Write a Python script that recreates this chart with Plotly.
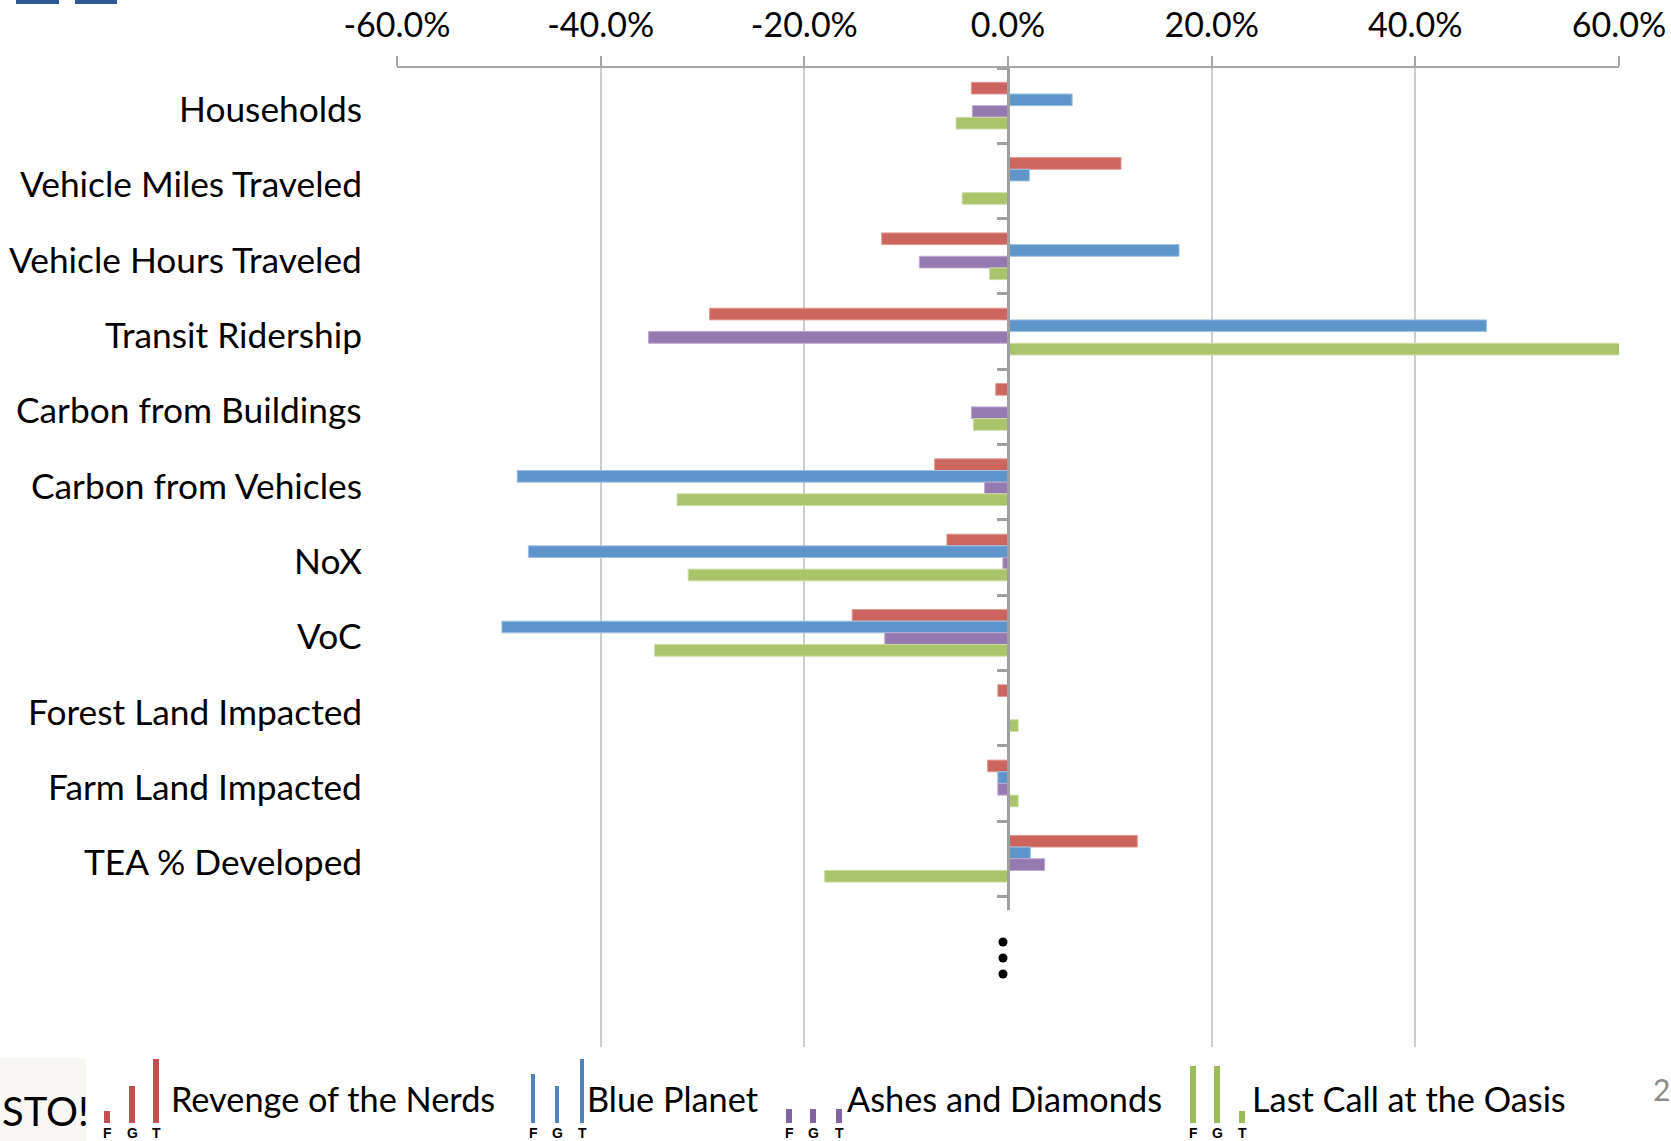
import plotly.graph_objects as go

# Scenario comparison: percent change by indicator
categories = [
    "Households", "Vehicle Miles Traveled", "Vehicle Hours Traveled",
    "Transit Ridership", "Carbon from Buildings", "Carbon from Vehicles",
    "NoX", "VoC", "Forest Land Impacted", "Farm Land Impacted",
    "TEA % Developed",
]
blank_rows = [" ", "  "]

revenge_of_the_nerds = [-3.6, 11.1, -12.4, -29.3, -1.2, -7.2, -6.0, -15.3, -1.0, -2.0, 12.7]
blue_planet = [6.3, 2.1, 16.8, 47.0, 0.15, -48.2, -47.1, -49.7, 0.0, -1.0, 2.2]
ashes_and_diamonds = [-3.5, 0.15, -8.7, -35.3, -3.6, -2.3, -0.5, -12.1, 0.0, -1.0, 3.6]
last_call_at_the_oasis = [-5.1, -4.5, -1.8, 60.2, -3.4, -32.5, -31.4, -34.7, 1.0, 1.0, -18.0]

series_names = ["Revenge of the Nerds", "Blue Planet", "Ashes and Diamonds", "Last Call at the Oasis"]
series_values = [revenge_of_the_nerds, blue_planet, ashes_and_diamonds, last_call_at_the_oasis]

tick_values = [-60, -40, -20, 0, 20, 40, 60]
tick_labels = [f"{v:.1f}%" for v in tick_values]

# styling
bar_fill = ["#CD655F", "#5E95CA", "#947AB0", "#AAC46C"]
bar_edge = ["#E29A95", "#A3C2E3", "#BCA8D0", "#CCDDA4"]
icon_fill = ["#C0504D", "#4F81BD", "#8064A2", "#9BBB59"]
FONT = "Lato"
W, H = 1671, 1141
L, R, T, B = 397, 52, 68, 94
PW, PH = W - L - R, H - T - B


def px(x):
    return (x - L) / PW


def py(y):
    return 1 - (y - T) / PH


fig = go.Figure()
for name, vals, fc, ec in zip(series_names, series_values, bar_fill, bar_edge):
    fig.add_trace(go.Bar(
        y=categories, x=vals, name=name, orientation="h",
        marker=dict(color=fc, line=dict(color=ec, width=1)),
        hoverinfo="x+y+name", showlegend=False,
    ))

shapes = []
annotations = []

# category labels on the far left
for c in categories:
    annotations.append(dict(
        x=px(364), xref="paper", y=c, yref="y", text=c, showarrow=False,
        xanchor="right", yanchor="middle", yshift=-3,
        font=dict(family=FONT, size=35.3, color="#000000"),
    ))

# hide the lower end of the category axis line behind the ellipsis
shapes.append(dict(type="rect", xref="paper", yref="paper",
                   x0=px(985), x1=px(1030), y0=py(1049), y1=py(910),
                   fillcolor="#FFFFFF", line=dict(width=0), layer="above"))
for yy in (942, 958, 974):
    shapes.append(dict(type="circle", xref="paper", yref="paper",
                       x0=px(998.5), x1=px(1007.5), y0=py(yy + 4.5), y1=py(yy - 4.5),
                       fillcolor="#000000", line=dict(width=0), layer="above"))

# decorative bars along the top-left edge
for x0, x1 in ((16, 59), (75, 117)):
    shapes.append(dict(type="rect", xref="paper", yref="paper",
                       x0=px(x0), x1=px(x1), y0=py(4), y1=py(-2),
                       fillcolor="#2F5597", line=dict(width=0)))

# box behind the logo text at bottom-left
shapes.append(dict(type="rect", xref="paper", yref="paper",
                   x0=px(-5), x1=px(86), y0=py(1145), y1=py(1058),
                   fillcolor="#F8F7F4", line=dict(width=0)))
annotations.append(dict(x=px(91), xref="paper", y=py(1111), yref="paper",
                        text="STO!", showarrow=False, xanchor="right", yanchor="middle",
                        font=dict(family=FONT, size=40, color="#000000")))

# legend: three mini bars (F, G, T) followed by the scenario name
legend_icons = [
    ([107, 132, 156], [1111, 1086, 1059], 6),
    ([533, 557, 582], [1074, 1086, 1059], 4),
    ([789, 813, 839], [1109, 1109, 1109], 6),
    ([1193, 1217, 1242], [1066, 1066, 1111], 6),
]
legend_text_x = [169, 585, 845, 1250]
for (xs, tops, wd), color, name, tx in zip(legend_icons, icon_fill, series_names, legend_text_x):
    for cx, top, letter in zip(xs, tops, "FGT"):
        shapes.append(dict(type="rect", xref="paper", yref="paper",
                           x0=px(cx - wd / 2), x1=px(cx + wd / 2), y0=py(1123), y1=py(top),
                           fillcolor=color, line=dict(width=0)))
        annotations.append(dict(x=px(cx), xref="paper", y=py(1133), yref="paper",
                                text=f"<b>{letter}</b>", showarrow=False,
                                xanchor="center", yanchor="middle",
                                font=dict(family="Liberation Sans Narrow, Liberation Sans", size=14,
                                          color="#000000")))
    annotations.append(dict(x=px(tx), xref="paper", y=py(1098), yref="paper",
                            text=name, showarrow=False, xanchor="left", yanchor="middle",
                            font=dict(family=FONT, size=34.3, color="#000000")))

# slide number at the right edge
annotations.append(dict(x=px(1651), xref="paper", y=py(1089), yref="paper",
                        text="2", showarrow=False, xanchor="left", yanchor="middle",
                        font=dict(family=FONT, size=30, color="#8C8C8C")))

fig.update_layout(
    width=W, height=H, autosize=False,
    margin=dict(l=L, r=R, t=T, b=B, pad=0, autoexpand=False),
    paper_bgcolor="#FFFFFF", plot_bgcolor="#FFFFFF",
    barmode="group", bargap=0.38, bargroupgap=0,
    font=dict(family=FONT, color="#000000"),
    shapes=shapes, annotations=annotations,
    xaxis=dict(
        side="top", range=[-60, 60], tickvals=tick_values, ticktext=tick_labels,
        tickfont=dict(family=FONT, size=34, color="#000000"),
        showgrid=True, gridcolor="#CDCDCD", gridwidth=1.5,
        zeroline=False, showline=True, linecolor="#A6A6A6", linewidth=2,
        ticks="outside", ticklen=10, tickwidth=2, tickcolor="#A6A6A6",
        ticklabelstandoff=5, automargin=False, fixedrange=True,
    ),
    yaxis=dict(
        type="category", categoryorder="array", categoryarray=categories + blank_rows,
        range=[len(categories) + len(blank_rows) - 0.5, -0.5],
        anchor="free", position=0.5,
        showline=True, linecolor="#A0A0A0", linewidth=2.5,
        ticks="outside", tickson="boundaries", ticklen=10, tickwidth=2.5, tickcolor="#A0A0A0",
        showticklabels=False, showgrid=False, zeroline=False,
        automargin=False, fixedrange=True,
    ),
)

fig.write_html("out.html")
